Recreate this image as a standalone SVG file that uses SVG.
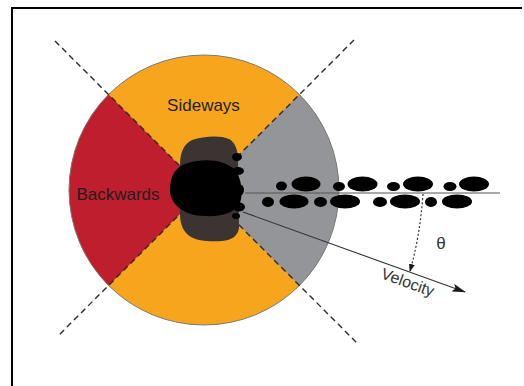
<svg xmlns="http://www.w3.org/2000/svg" width="524" height="386" viewBox="0 0 524 386">
  <defs>
    <style>
      .label { font-family: "Liberation Sans", Arial, sans-serif; fill: #231f20; }
      .note { font-family: "Liberation Sans", Arial, sans-serif; fill: #333333; }
      .sector-line { stroke: #2b2b2b; stroke-width: 1.4; stroke-dasharray: 6 4; fill: none; }
      .print { fill: #000; }
    </style>
    <marker id="arrow" viewBox="0 0 14 8" refX="13" refY="4" markerWidth="14" markerHeight="8" markerUnits="userSpaceOnUse" orient="auto">
      <path d="M0,0 L14,4 L0,8 L3,4 Z" fill="#1a1a1a"/>
    </marker>
    <marker id="arrow-small" viewBox="0 0 8 6" refX="7" refY="3" markerWidth="8" markerHeight="6" markerUnits="userSpaceOnUse" orient="auto">
      <path d="M0,0 L8,3 L0,6 Z" fill="#1a1a1a"/>
    </marker>
  </defs>

  <!-- frame -->
  <rect x="0" y="0" width="524" height="386" fill="#ffffff"/>
  <path d="M12,386 L12,8 L522,8" fill="none" stroke="#000" stroke-width="2"/>

  <!-- direction disc -->
  <g id="disc">
    <circle cx="204" cy="190" r="135" fill="#f7a51c"/>
    <path id="sector-forward" d="M204,190 L299.46,94.54 A135,135 0 0 1 299.46,285.46 Z" fill="#939598"/>
    <path id="sector-backward" d="M204,190 L108.54,285.46 A135,135 0 0 1 108.54,94.54 Z" fill="#be1e2d"/>
    <circle cx="204" cy="190" r="135" fill="none" stroke="#7a7a7a" stroke-width="1"/>
  </g>

  <!-- sector boundaries -->
  <g id="boundaries">
    <line class="sector-line" x1="55" y1="41" x2="358" y2="344"/>
    <line class="sector-line" x1="354" y1="40" x2="57" y2="337"/>
  </g>

  <g id="label-sideways">
    <text class="label" x="203.5" y="111" font-size="17" text-anchor="middle">Sideways</text>
  </g>
  <g id="label-backwards">
    <text class="label" x="118" y="200" font-size="17" text-anchor="middle">Backwards</text>
  </g>

  <!-- animal seen from above -->
  <g id="animal">
    <path d="M192,140 C204,136 220,135 229,139 C235,142 238,150 238,160 L239,228 C238,236 232,240 222,241 C210,242 198,241 191,237 C184,233 180,225 180,214 L180,165 C180,152 184,144 192,140 Z" fill="#3b3432"/>
    <path d="M188,163 C205,158 225,160 235,170 C242,178 243,195 240,203 C236,212 222,217 205,216 C185,216 170,205 170,190 C170,175 176,166 188,163 Z" fill="#000"/>
    <ellipse class="print" cx="237" cy="157" rx="5" ry="4"/>
    <ellipse class="print" cx="238" cy="171" rx="6" ry="4"/>
    <ellipse class="print" cx="239" cy="190" rx="5" ry="6"/>
    <ellipse class="print" cx="239" cy="207" rx="6" ry="4.5"/>
    <ellipse class="print" cx="236" cy="216" rx="4" ry="3"/>
  </g>

  <!-- footprint trail -->
  <g id="trail">
    <ellipse class="print" cx="281.5" cy="186" rx="5.5" ry="4.5"/>
    <ellipse class="print" cx="306" cy="184" rx="14.5" ry="7.5"/>
    <ellipse class="print" cx="339" cy="186.5" rx="6" ry="4.5"/>
    <ellipse class="print" cx="362.5" cy="184" rx="15" ry="7.5"/>
    <ellipse class="print" cx="393.5" cy="186.5" rx="6.5" ry="4.5"/>
    <ellipse class="print" cx="418" cy="184" rx="15" ry="7.5"/>
    <ellipse class="print" cx="450" cy="186.5" rx="6.5" ry="4.5"/>
    <ellipse class="print" cx="474" cy="184" rx="15" ry="7.5"/>

    <ellipse class="print" cx="268" cy="202" rx="6" ry="5"/>
    <ellipse class="print" cx="294" cy="201.5" rx="14.5" ry="7"/>
    <ellipse class="print" cx="320.5" cy="202" rx="6.5" ry="5"/>
    <ellipse class="print" cx="345" cy="201.5" rx="15" ry="7"/>
    <ellipse class="print" cx="380" cy="202" rx="7" ry="5"/>
    <ellipse class="print" cx="405" cy="201.5" rx="15" ry="7"/>
    <ellipse class="print" cx="431" cy="202" rx="6" ry="5"/>
    <ellipse class="print" cx="457" cy="201.5" rx="15" ry="7"/>
  </g>

  <!-- heading and velocity -->
  <g id="connectors">
    <line x1="245" y1="193" x2="500" y2="193" stroke="#555" stroke-width="1"/>
    <line x1="243" y1="212" x2="465" y2="292" stroke="#333" stroke-width="1.1" marker-end="url(#arrow)"/>
    <path d="M423,194 Q420,236 410,271" fill="none" stroke="#333" stroke-width="1.2" stroke-dasharray="2 2" marker-end="url(#arrow-small)"/>
  </g>

  <g id="label-theta">
    <text class="note" x="441" y="249" font-size="17" text-anchor="middle">θ</text>
  </g>
  <g id="label-velocity">
    <text class="note" x="0" y="0" font-size="16" transform="translate(380,278) rotate(20)">Velocity</text>
  </g>
</svg>
